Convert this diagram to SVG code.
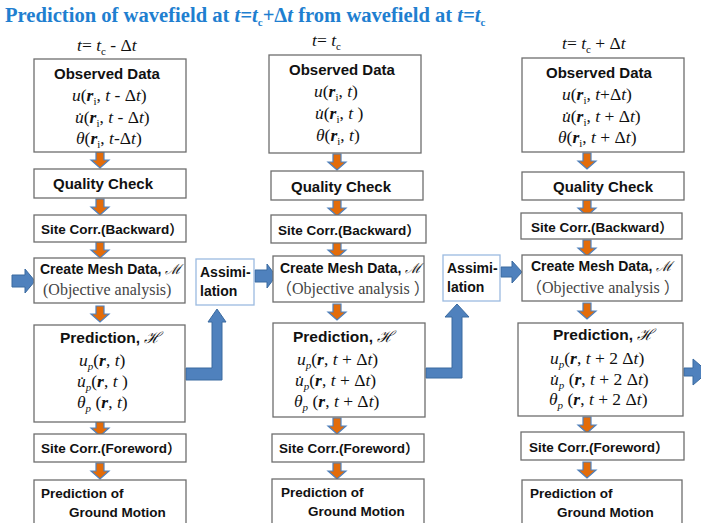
<svg xmlns="http://www.w3.org/2000/svg" width="701" height="523" viewBox="0 0 701 523">
<style>
.box{fill:#fff;stroke:#6e6e6e;stroke-width:1.3}
.abox{fill:#fff;stroke:#9bbbe0;stroke-width:1.3}
.h{font-family:"Liberation Sans",Arial,sans-serif;font-weight:bold;font-size:15px;fill:#111}
.p{font-size:15.5px}
.s{font-family:"Liberation Sans",Arial,"Noto Sans CJK JP",sans-serif;font-weight:bold;font-size:13.5px;fill:#111}
.m{font-family:"Liberation Serif","Times New Roman",serif;font-size:17.5px;fill:#111}
.o{font-family:"Liberation Serif","Times New Roman","Noto Sans CJK JP",serif;font-size:16px;fill:#444}
.lab{font-family:"Liberation Serif","Times New Roman",serif;font-size:17.5px;fill:#111}
.it{font-style:italic}
.b{font-style:italic;font-weight:bold}
.sc{font-family:"DejaVu Serif","Liberation Serif",serif;font-style:italic;font-weight:normal}
.sm{font-size:11px}
.oa{fill:#e36c0a;stroke:#4f81bd;stroke-width:1.2}
.ba{fill:#4f81bd;stroke:#3a6aa0;stroke-width:1}
.title{font-family:"Liberation Serif","Times New Roman",serif;font-weight:bold;font-size:20.6px;fill:#1f7fd0}
</style>
<defs>
<path id="oarr" d="M-4,0 H4 V8 H9 L0,16 L-9,8 H-4 Z"/>
</defs>

<text class="title" x="5" y="22">Prediction of wavefield at <tspan class="it">t=t</tspan><tspan class="sm" dy="4">c</tspan><tspan dy="-4">+Δ</tspan><tspan class="it">t</tspan> from wavefield at <tspan class="it">t=t</tspan><tspan class="sm" dy="4">c</tspan></text>

<text class="lab" x="77" y="51"><tspan class="it">t</tspan>= <tspan class="it">t</tspan><tspan class="sm" dy="4">c</tspan><tspan dy="-4">  - Δ</tspan><tspan class="it">t</tspan></text>
<text class="lab" x="312" y="46"><tspan class="it">t</tspan>= <tspan class="it">t</tspan><tspan class="sm" dy="4">c</tspan></text>
<text class="lab" x="562" y="49"><tspan class="it">t</tspan>= <tspan class="it">t</tspan><tspan class="sm" dy="4">c</tspan><tspan dy="-4"> + Δ</tspan><tspan class="it">t</tspan></text>

<g id="connectors">
<use href="#oarr" class="oa" x="100" y="152"/>
<use href="#oarr" class="oa" x="100" y="199"/>
<use href="#oarr" class="oa" x="100" y="242"/>
<use href="#oarr" class="oa" x="100" y="306"/>
<use href="#oarr" class="oa" x="100" y="420"/>
<use href="#oarr" class="oa" x="100" y="463"/>
<use href="#oarr" class="oa" x="337" y="154"/>
<use href="#oarr" class="oa" x="337" y="200"/>
<use href="#oarr" class="oa" x="337" y="242"/>
<use href="#oarr" class="oa" x="337" y="304"/>
<use href="#oarr" class="oa" x="337" y="418"/>
<use href="#oarr" class="oa" x="337" y="463"/>
<use href="#oarr" class="oa" x="587" y="153"/>
<use href="#oarr" class="oa" x="587" y="200"/>
<use href="#oarr" class="oa" x="587" y="240"/>
<use href="#oarr" class="oa" x="587" y="303"/>
<use href="#oarr" class="oa" x="587" y="417"/>
<use href="#oarr" class="oa" x="587" y="462"/>
<path class="ba" d="M12,275 H25 V269 L35,281 L25,293 V287 H12 Z"/>
<path class="ba" d="M255,270 H267 V264 L276,276 L267,288 V282 H255 Z"/>
<path class="ba" d="M501,267 H512 V261 L522,272 L512,283 V277 H501 Z"/>
<path class="ba" d="M186,368 H212 V322 H208 L217,309 L226,322 H222 V380 H186 Z"/>
<path class="ba" d="M426,368 H452 V317 H445 L457,304 L469,317 H462 V378 H426 Z"/>
<path class="ba" d="M684,368 H693 V359 L708,372 L693,385 V376 H684 Z"/>
</g>

<g id="c1-observed">
<rect class="box" x="34" y="59" width="152" height="93"/>
<text class="h" x="54" y="79">Observed Data</text>
<text class="m" x="72" y="101"><tspan class="it">u</tspan>(<tspan class="b">r</tspan><tspan class="sm" dy="4">i</tspan><tspan dy="-4">, </tspan><tspan class="it">t</tspan> - Δ<tspan class="it">t</tspan>)</text>
<text class="m" x="75" y="123"><tspan class="it">u̇</tspan>(<tspan class="b">r</tspan><tspan class="sm" dy="4">i</tspan><tspan dy="-4">, </tspan><tspan class="it">t</tspan> - Δ<tspan class="it">t</tspan>)</text>
<text class="m" x="76" y="144"><tspan class="it">θ</tspan>(<tspan class="b">r</tspan><tspan class="sm" dy="4">i</tspan><tspan dy="-4">, </tspan><tspan class="it">t</tspan>-Δ<tspan class="it">t</tspan>)</text>
</g>
<g id="c1-quality">
<rect class="box" x="34" y="169" width="152" height="29"/>
<text class="h" x="53" y="189">Quality Check</text>
</g>
<g id="c1-sitecorr-back">
<rect class="box" x="34" y="215" width="152" height="27"/>
<text class="s" x="41" y="234">Site Corr.(Backward）</text>
</g>
<g id="c1-mesh">
<rect class="box" x="34" y="258" width="151" height="45"/>
<text class="s" x="40" y="274" style="font-size:14px">Create Mesh Data, <tspan class="sc">ℳ</tspan></text>
<text class="o" x="43" y="295">(Objective analysis)</text>
</g>
<g id="c1-assim">
<rect class="abox" x="196" y="259" width="58" height="46"/>
<text class="s" x="200" y="277" style="font-size:14px">Assimi-</text>
<text class="s" x="200" y="296" style="font-size:14px">lation</text>
</g>
<g id="c1-prediction">
<rect class="box" x="34" y="325" width="151" height="97"/>
<text class="h p" x="60" y="343">Prediction, <tspan class="sc">ℋ</tspan></text>
<text class="m" x="79" y="366"><tspan class="it">u</tspan><tspan class="it sm" dy="4">p</tspan><tspan dy="-4">(</tspan><tspan class="b">r</tspan>, <tspan class="it">t</tspan>)</text>
<text class="m" x="77" y="387"><tspan class="it">u̇</tspan><tspan class="it sm" dy="4">p</tspan><tspan dy="-4">(</tspan><tspan class="b">r</tspan>, <tspan class="it">t</tspan> )</text>
<text class="m" x="77" y="408"><tspan class="it">θ</tspan><tspan class="it sm" dy="4">p</tspan><tspan dy="-4"> (</tspan><tspan class="b">r</tspan>, <tspan class="it">t</tspan>)</text>
</g>
<g id="c1-sitecorr-fore">
<rect class="box" x="34" y="434" width="152" height="28"/>
<text class="s" x="41" y="453">Site Corr.(Foreword）</text>
</g>
<g id="c1-ground">
<rect class="box" x="34" y="480" width="152" height="50"/>
<text class="s" x="41" y="498">Prediction of</text>
<text class="s" x="69" y="517">Ground Motion</text>
</g>

<g id="c2-observed">
<rect class="box" x="269" y="55" width="152" height="98"/>
<text class="h" x="289" y="75">Observed Data</text>
<text class="m" x="314" y="97"><tspan class="it">u</tspan>(<tspan class="b">r</tspan><tspan class="sm" dy="4">i</tspan><tspan dy="-4">, </tspan><tspan class="it">t</tspan>)</text>
<text class="m" x="315" y="119"><tspan class="it">u̇</tspan>(<tspan class="b">r</tspan><tspan class="sm" dy="4">i</tspan><tspan dy="-4">, </tspan><tspan class="it">t</tspan> )</text>
<text class="m" x="316" y="141"><tspan class="it">θ</tspan>(<tspan class="b">r</tspan><tspan class="sm" dy="4">i</tspan><tspan dy="-4">, </tspan><tspan class="it">t</tspan>)</text>
</g>
<g id="c2-quality">
<rect class="box" x="271" y="171" width="152" height="29"/>
<text class="h" x="291" y="192">Quality Check</text>
</g>
<g id="c2-sitecorr-back">
<rect class="box" x="271" y="215" width="155" height="28"/>
<text class="s" x="278" y="235">Site Corr.(Backward）</text>
</g>
<g id="c2-mesh">
<rect class="box" x="273" y="256" width="151" height="46"/>
<text class="s" x="280" y="273" style="font-size:14px">Create Mesh Data, <tspan class="sc">ℳ</tspan></text>
<text class="o" x="276" y="294">（Objective analysis ）</text>
</g>
<g id="c2-assim">
<rect class="abox" x="443" y="255" width="57" height="46"/>
<text class="s" x="447" y="273" style="font-size:14px">Assimi-</text>
<text class="s" x="447" y="292" style="font-size:14px">lation</text>
</g>
<g id="c2-prediction">
<rect class="box" x="273" y="323" width="152" height="94"/>
<text class="h p" x="293" y="342">Prediction, <tspan class="sc">ℋ</tspan></text>
<text class="m" x="297" y="365"><tspan class="it">u</tspan><tspan class="it sm" dy="4">p</tspan><tspan dy="-4">(</tspan><tspan class="b">r</tspan>, <tspan class="it">t</tspan> + Δ<tspan class="it">t</tspan>)</text>
<text class="m" x="295" y="386"><tspan class="it">u̇</tspan><tspan class="it sm" dy="4">p</tspan><tspan dy="-4">(</tspan><tspan class="b">r</tspan>, <tspan class="it">t</tspan> + Δ<tspan class="it">t</tspan>)</text>
<text class="m" x="294" y="407"><tspan class="it">θ</tspan><tspan class="it sm" dy="4">p</tspan><tspan dy="-4"> (</tspan><tspan class="b">r</tspan>, <tspan class="it">t</tspan> + Δ<tspan class="it">t</tspan>)</text>
</g>
<g id="c2-sitecorr-fore">
<rect class="box" x="272" y="434" width="152" height="28"/>
<text class="s" x="279" y="453">Site Corr.(Foreword）</text>
</g>
<g id="c2-ground">
<rect class="box" x="272" y="479" width="152" height="50"/>
<text class="s" x="281" y="497">Prediction of</text>
<text class="s" x="308" y="516">Ground Motion</text>
</g>

<g id="c3-observed">
<rect class="box" x="522" y="58" width="162" height="94"/>
<text class="h" x="546" y="78">Observed Data</text>
<text class="m" x="562" y="100"><tspan class="it">u</tspan>(<tspan class="b">r</tspan><tspan class="sm" dy="4">i</tspan><tspan dy="-4">, </tspan><tspan class="it">t</tspan>+Δ<tspan class="it">t</tspan>)</text>
<text class="m" x="562" y="122"><tspan class="it">u̇</tspan>(<tspan class="b">r</tspan><tspan class="sm" dy="4">i</tspan><tspan dy="-4">, </tspan><tspan class="it">t</tspan> + Δ<tspan class="it">t</tspan>)</text>
<text class="m" x="558" y="143"><tspan class="it">θ</tspan>(<tspan class="b">r</tspan><tspan class="sm" dy="4">i</tspan><tspan dy="-4">, </tspan><tspan class="it">t</tspan> + Δ<tspan class="it">t</tspan>)</text>
</g>
<g id="c3-quality">
<rect class="box" x="522" y="172" width="162" height="28"/>
<text class="h" x="553" y="192">Quality Check</text>
</g>
<g id="c3-sitecorr-back">
<rect class="box" x="521" y="213" width="161" height="26"/>
<text class="s" x="531" y="232">Site Corr.(Backward）</text>
</g>
<g id="c3-mesh">
<rect class="box" x="522" y="255" width="160" height="46"/>
<text class="s" x="531" y="271" style="font-size:14px">Create Mesh Data, <tspan class="sc">ℳ</tspan></text>
<text class="o" x="526" y="293">（Objective analysis ）</text>
</g>
<g id="c3-prediction">
<rect class="box" x="518" y="323" width="165" height="93"/>
<text class="h p" x="553" y="340">Prediction, <tspan class="sc">ℋ</tspan></text>
<text class="m" x="550" y="364"><tspan class="it">u</tspan><tspan class="it sm" dy="4">p</tspan><tspan dy="-4">(</tspan><tspan class="b">r</tspan>, <tspan class="it">t</tspan> + 2 Δ<tspan class="it">t</tspan>)</text>
<text class="m" x="550" y="385"><tspan class="it">u̇</tspan><tspan class="it sm" dy="4">p</tspan><tspan dy="-4"> (</tspan><tspan class="b">r</tspan>, <tspan class="it">t</tspan> + 2 Δ<tspan class="it">t</tspan>)</text>
<text class="m" x="549" y="405"><tspan class="it">θ</tspan><tspan class="it sm" dy="4">p</tspan><tspan dy="-4"> (</tspan><tspan class="b">r</tspan>, <tspan class="it">t</tspan> + 2 Δ<tspan class="it">t</tspan>)</text>
</g>
<g id="c3-sitecorr-fore">
<rect class="box" x="521" y="432" width="163" height="28"/>
<text class="s" x="529" y="452">Site Corr.(Foreword）</text>
</g>
<g id="c3-ground">
<rect class="box" x="522" y="480" width="160" height="50"/>
<text class="s" x="530" y="498">Prediction of</text>
<text class="s" x="557" y="517">Ground Motion</text>
</g>
</svg>
